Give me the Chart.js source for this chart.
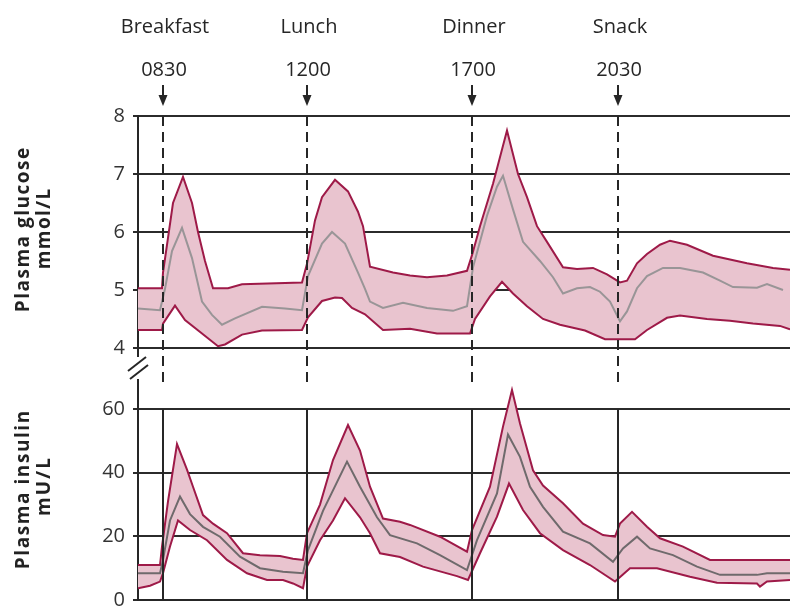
<!DOCTYPE html>
<html><head><meta charset="utf-8">
<script src="https://cdn.jsdelivr.net/npm/chart.js@4.4.1/dist/chart.umd.min.js"></script>
<style>html,body{margin:0;padding:0;background:#fff;}</style>
</head><body>
<canvas id="c" width="790" height="607"></canvas>
<script>
// ---- data (x = position along the day, arbitrary units; y = value) ----
const mealNames = ['Breakfast','Lunch','Dinner','Snack'];
const mealTimes = ['0830','1200','1700','2030'];
const mealPos = [2.45, 16.9, 33.4, 48.0];
const glucoseTicks = [4,5,6,7,8];
const insulinTicks = [0,20,40,60];

const glucoseUpper = [[0,5.03],[2.4,5.03],[2.5,5.3],[3.0,5.9],[3.5,6.5],[4.5,6.95],[5.4,6.5],[6.0,6.0],[6.7,5.5],[7.5,5.03],[9.0,5.03],[10.4,5.1],[16.4,5.13],[16.9,5.45],[17.7,6.2],[18.4,6.6],[19.7,6.9],[21.0,6.7],[22.0,6.35],[22.5,6.1],[23.2,5.4],[25.5,5.3],[27.2,5.25],[28.9,5.22],[30.9,5.25],[32.9,5.33],[33.4,5.6],[34.2,6.1],[35.5,6.83],[36.9,7.75],[38.0,7.0],[38.9,6.6],[39.9,6.1],[40.9,5.83],[42.5,5.39],[43.9,5.36],[45.5,5.38],[46.9,5.27],[48.2,5.13],[48.9,5.16],[49.9,5.46],[50.9,5.62],[52.2,5.78],[53.2,5.85],[54.9,5.78],[57.5,5.59],[60.9,5.46],[63.5,5.38],[65.2,5.35]];
const glucoseLower = [[0,4.31],[2.4,4.31],[2.5,4.42],[3.7,4.73],[4.7,4.48],[6.4,4.25],[8.0,4.03],[8.7,4.06],[10.4,4.23],[12.4,4.3],[16.4,4.31],[17.0,4.53],[18.4,4.81],[19.7,4.87],[20.4,4.86],[21.4,4.69],[22.7,4.58],[24.5,4.31],[27.2,4.33],[29.9,4.25],[33.2,4.25],[33.7,4.5],[35.2,4.89],[36.4,5.14],[37.5,4.94],[38.9,4.72],[40.5,4.5],[42.2,4.4],[44.7,4.3],[46.7,4.15],[49.7,4.15],[50.9,4.31],[52.9,4.52],[54.2,4.56],[56.9,4.5],[59.2,4.47],[61.5,4.42],[64.2,4.38],[65.2,4.32]];
const glucoseMean = [[0,4.68],[2.2,4.65],[2.7,5.02],[3.4,5.67],[4.4,6.07],[5.4,5.55],[6.4,4.8],[7.4,4.57],[8.4,4.4],[9.7,4.51],[12.4,4.71],[14.7,4.68],[16.4,4.65],[17.0,5.24],[18.4,5.8],[19.4,6.0],[20.7,5.8],[22.0,5.3],[22.7,5.02],[23.2,4.8],[24.5,4.69],[26.5,4.78],[28.9,4.69],[31.5,4.64],[32.9,4.72],[33.5,5.39],[34.9,6.28],[35.9,6.78],[36.5,6.97],[37.5,6.39],[38.5,5.83],[40.2,5.5],[41.5,5.22],[42.5,4.94],[43.9,5.03],[45.2,5.05],[46.2,4.97],[47.2,4.8],[48.2,4.46],[48.9,4.63],[49.9,5.03],[50.9,5.24],[52.5,5.38],[54.2,5.38],[56.5,5.3],[58.2,5.16],[59.5,5.05],[61.9,5.04],[62.9,5.1],[64.5,5.0]];

const insulinUpper = [[0,11],[2.2,11],[2.4,16.8],[3.0,31],[3.9,49],[4.9,41],[5.5,35.6],[6.5,26.7],[7.5,24],[8.9,21],[10.5,14.7],[12.2,14.1],[14.2,13.8],[15.5,13],[16.5,12.6],[16.9,21],[18.2,30],[19.5,44],[21.0,55],[22.2,47],[23.2,35.6],[24.5,25.6],[26.2,24.6],[27.2,23.6],[30.2,19.9],[32.9,15.2],[33.4,22],[35.2,35.6],[36.5,54.5],[37.4,66],[38.2,55.5],[39.5,40.8],[40.5,36],[42.5,30.4],[44.5,24],[46.5,20.4],[47.7,19.9],[48.2,24],[49.4,27.7],[50.9,23],[52.2,19.4],[54.5,16.8],[57.2,12.6],[65.2,12.6]];
const insulinLower = [[0,3.7],[1.2,4.5],[2.2,5.8],[2.5,8.4],[3.2,16.8],[4.0,25],[5.2,22],[6.9,18.8],[8.9,12.6],[10.9,8.4],[12.9,6.3],[14.5,6.3],[15.5,5.2],[16.5,3.7],[16.9,10.5],[18.2,18.8],[19.5,25],[20.7,32],[22.2,26],[23.2,21],[24.2,14.7],[26.2,13.5],[28.5,10.5],[31.9,7.5],[33.0,6.3],[34.2,14.7],[35.9,26.2],[37.1,36.6],[38.5,28.3],[40.2,21],[42.5,15.7],[45.2,11],[47.7,5.8],[49.2,10],[51.9,10],[55.2,7.3],[57.9,5.4],[61.9,5.2],[62.2,4.2],[62.9,5.8],[65.2,6.3]];
const insulinMean = [[0,8.4],[2.2,8.4],[2.5,12.6],[3.2,25],[4.2,32.5],[5.2,27],[6.5,23],[8.2,19.9],[10.2,13.6],[12.2,10],[14.5,8.9],[16.5,8.4],[17.0,15.7],[18.5,28],[20.9,43.5],[22.2,35.6],[23.9,26],[25.2,20.4],[27.9,17.8],[30.2,14.1],[32.9,9.4],[33.9,18.8],[35.9,33.5],[37.0,52],[38.2,45],[39.2,35.6],[40.5,29.3],[42.5,21.5],[45.2,17.8],[47.5,12],[48.5,16.2],[49.9,19.9],[51.2,16.2],[53.5,14.1],[55.9,10.5],[58.2,7.9],[61.9,7.9],[62.9,8.4],[65.2,8.4]];

// ---- styles ----
const BAND_LINE = '#9e1a48';
const BAND_FILL = '#e9c4cf';
const G_MEAN_LINE = '#999597';
const I_MEAN_LINE = '#6f6a6c';
const INK = '#262626';
const FONT = '"Open Sans", "Noto Sans", sans-serif';

const pts = a => a.map(p => ({x: p[0], y: p[1]}));
const lineDs = (data, axis, color, fill, bg) => ({
  data: pts(data), yAxisID: axis, borderColor: color, borderWidth: 2,
  pointRadius: 0, tension: 0, fill: fill, backgroundColor: bg || 'transparent'
});

const yCommon = {
  type: 'linear', position: 'left', stack: 'panels', z: 1,
  grid: {color: '#2b2b2b', lineWidth: 2, tickLength: 5, drawTicks: true},
  border: {color: INK, width: 2},
  ticks: {color: '#333', font: {family: FONT, size: 20}, padding: 8},
  afterFit: s => { s.width = 138; s.paddingTop = 0; s.paddingBottom = 0; }
};

const overlay = {
  id: 'overlay',
  afterDraw(chart) {
    const {ctx, scales: {x, yG, yI}} = chart;
    ctx.save();
    ctx.strokeStyle = INK; ctx.fillStyle = INK; ctx.lineWidth = 2;
    mealPos.forEach((m, i) => {
      const px = Math.round(x.getPixelForValue(m));
      ctx.setLineDash([10, 6]);
      ctx.beginPath(); ctx.moveTo(px, yG.getPixelForValue(8)); ctx.lineTo(px, yG.bottom + 15); ctx.stroke();
      ctx.setLineDash([]);
      ctx.beginPath(); ctx.moveTo(px, yI.getPixelForValue(60)); ctx.lineTo(px, yI.getPixelForValue(0)); ctx.stroke();
      ctx.beginPath(); ctx.moveTo(px, 85); ctx.lineTo(px, 97); ctx.stroke();
      ctx.beginPath(); ctx.moveTo(px - 4.5, 95); ctx.lineTo(px + 4.5, 95); ctx.lineTo(px, 106); ctx.closePath(); ctx.fill();
      ctx.font = '20px ' + FONT; ctx.textAlign = 'center'; ctx.textBaseline = 'middle';
      ctx.fillText(mealNames[i], px + 2, 27);
      ctx.fillText(mealTimes[i], px + 1, 70);
    });
    // axis break mark
    const ax = x.left, by = yG.bottom - 3;
    ctx.fillStyle = '#fff';
    ctx.fillRect(ax - 3, by - 10, 6, 22);
    ctx.strokeStyle = INK; ctx.lineWidth = 2;
    ctx.beginPath(); ctx.moveTo(ax - 10, by + 4); ctx.lineTo(ax + 8, by - 10); ctx.stroke();
    ctx.beginPath(); ctx.moveTo(ax - 8, by + 12); ctx.lineTo(ax + 10, by - 2); ctx.stroke();
    // axis titles
    const title = (txt, cx, cy, target) => {
      ctx.save();
      ctx.translate(cx, cy); ctx.rotate(-Math.PI / 2);
      ctx.font = '700 19px ' + FONT;
      ctx.letterSpacing = '0px';
      const w = ctx.measureText(txt).width;
      const ls = Math.max(0, (target - w) / txt.length);
      ctx.letterSpacing = ls.toFixed(2) + 'px';
      ctx.fillStyle = '#222'; ctx.textAlign = 'center'; ctx.textBaseline = 'middle';
      ctx.fillText(txt, ls / 2, 0);
      ctx.restore();
    };
    title('Plasma glucose', 24, 230, 166);
    title('mmol/L', 45, 229, 82);
    title('Plasma insulin', 24, 490, 160);
    title('mU/L', 45, 487, 60);
    ctx.restore();
  }
};

new Chart(document.getElementById('c'), {
  type: 'line',
  data: {
    datasets: [
      lineDs(glucoseMean, 'yG', G_MEAN_LINE, false),
      lineDs(glucoseLower, 'yG', BAND_LINE, false),
      lineDs(glucoseUpper, 'yG', BAND_LINE, '-1', BAND_FILL),
      lineDs(insulinMean, 'yI', I_MEAN_LINE, false),
      lineDs(insulinLower, 'yI', BAND_LINE, false),
      lineDs(insulinUpper, 'yI', BAND_LINE, '-1', BAND_FILL)
    ]
  },
  options: {
    responsive: false, animation: false, devicePixelRatio: 1,
    layout: {padding: {top: 116, right: 0, bottom: 7, left: 0}},
    plugins: {legend: {display: false}, tooltip: {enabled: false}},
    scales: {
      x: {
        type: 'linear', min: 0, max: 65.2,
        grid: {display: false, drawTicks: false},
        ticks: {display: false},
        border: {display: true, color: INK, width: 2},
        afterFit: s => { s.height = 0; }
      },
      yI: Object.assign({}, yCommon, {
        stackWeight: 230, min: 0, max: 72.3,
        afterBuildTicks: s => { s.ticks = insulinTicks.map(v => ({value: v})); }
      }),
      yG: Object.assign({}, yCommon, {
        stackWeight: 254, min: 3.62, max: 8,
        afterBuildTicks: s => { s.ticks = glucoseTicks.map(v => ({value: v})); }
      })
    }
  },
  plugins: [overlay]
});
</script>
</body></html>
